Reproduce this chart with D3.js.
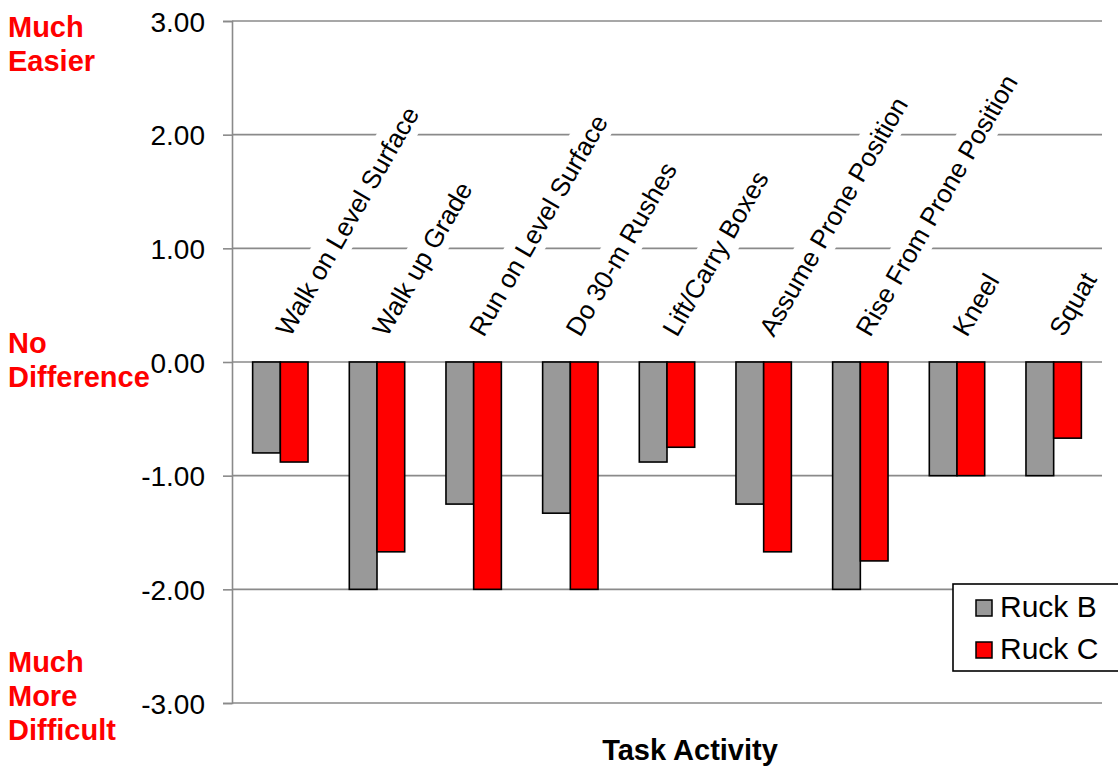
<!DOCTYPE html>
<html>
<head>
<meta charset="utf-8">
<script src="https://cdn.jsdelivr.net/npm/d3@7"></script>
<style>
  html, body { margin: 0; padding: 0; background: #fff; }
  svg { display: block; font-family: Arial, "Liberation Sans", sans-serif; }
</style>
</head>
<body>
<svg id="chart" width="1118" height="771"></svg>
<script>
// Task activities, ruck ratings (negative = more difficult)
const categories = [
  "Walk on Level Surface", "Walk up Grade", "Run on Level Surface",
  "Do 30-m Rushes", "Lift/Carry Boxes", "Assume Prone Position",
  "Rise From Prone Position", "Kneel", "Squat"
];
const seriesNames = ["Ruck B", "Ruck C"];
const ruckB = [-0.80, -2.00, -1.25, -1.33, -0.88, -1.25, -2.00, -1.00, -1.00];
const ruckC = [-0.88, -1.67, -2.00, -2.00, -0.75, -1.67, -1.75, -1.00, -0.67];
const yTicks = [3, 2, 1, 0, -1, -2, -3];
const sideNotes = [
  { value: 3, lines: ["Much", "Easier"] },
  { value: 0, lines: ["No", "Difference"] },
  { value: -3, lines: ["Much", "More", "Difficult"] }
];
const xTitle = "Task Activity";

const seriesColors = { "Ruck B": "#999999", "Ruck C": "#ff0000" };
const gridColor = "#8a8a8a";

const svg = d3.select("#chart");
const plot = { left: 232, right: 1102, top: 21, bottom: 703 };

const y = d3.scaleLinear().domain([-3, 3]).range([plot.bottom, plot.top]);
const x0 = d3.scaleBand().domain(categories)
  .range([plot.left, plot.right]).paddingInner(0.427).paddingOuter(0.2135);
const x1 = d3.scaleBand().domain(seriesNames).range([0, x0.bandwidth()]);

// Horizontal gridlines
svg.append("g").selectAll("line").data(yTicks).join("line")
  .attr("x1", plot.left).attr("x2", plot.right)
  .attr("y1", d => y(d)).attr("y2", d => y(d))
  .attr("stroke", gridColor).attr("stroke-width", 1.6);

// Value axis with tick marks (plain hyphen for negatives)
const fmt = d3.formatLocale({ decimal: ".", thousands: ",", grouping: [3],
  currency: ["", ""], minus: "-" }).format(".2f");
const yAxis = svg.append("g").attr("transform", `translate(${plot.left},0)`)
  .call(d3.axisLeft(y).tickValues(yTicks).tickFormat(fmt)
    .tickSize(9).tickPadding(18));
yAxis.select(".domain").attr("stroke", gridColor).attr("stroke-width", 1.6);
yAxis.selectAll(".tick line").attr("stroke", gridColor).attr("stroke-width", 1.6);
yAxis.selectAll(".tick text")
  .attr("font-size", 28).attr("fill", "#000")
  .attr("font-family", "Arial, 'Liberation Sans', sans-serif")
  .attr("dy", "0.36em");

// Rotated category labels, each on a white box that breaks the gridlines
const labelG = svg.append("g");
const labelSize = 26;
categories.forEach(c => {
  const cx = x0(c) + x0.bandwidth() / 2 + 10;
  const g = labelG.append("g").attr("transform", `translate(${cx},338) rotate(-60)`);
  const rect = g.append("rect").attr("fill", "#fff");
  const t = g.append("text").text(c)
    .attr("font-size", labelSize).attr("fill", "#000").attr("x", 0).attr("y", 0);
  const len = t.node().getComputedTextLength();
  rect.attr("x", -6).attr("width", len + 12)
    .attr("y", -labelSize * 0.36 - 18).attr("height", 36);
});

// Bars
const rows = categories.map((c, i) => ({ cat: c, "Ruck B": ruckB[i], "Ruck C": ruckC[i] }));
svg.append("g").selectAll("g").data(rows).join("g")
  .attr("transform", d => `translate(${x0(d.cat)},0)`)
  .selectAll("rect")
  .data(d => seriesNames.map(s => ({ s, v: d[s] })))
  .join("rect")
  .attr("x", d => x1(d.s))
  .attr("width", x1.bandwidth())
  .attr("y", d => y(Math.max(0, d.v)))
  .attr("height", d => Math.abs(y(d.v) - y(0)))
  .attr("fill", d => seriesColors[d.s])
  .attr("stroke", "#000").attr("stroke-width", 1.6);

// Side annotations
sideNotes.forEach(n => {
  const t = svg.append("text").attr("font-size", 29).attr("font-weight", "bold")
    .attr("fill", "#ff0000");
  const spacing = 34;
  let startY;
  if (n.value === 3) startY = y(3) + 16;
  else if (n.value === 0) startY = y(0) - 9;
  else startY = y(-3) - 31;
  n.lines.forEach((ln, i) => {
    t.append("tspan").attr("x", 8).attr("y", startY + i * spacing).text(ln);
  });
});

// Axis title
svg.append("text").text(xTitle)
  .attr("x", 690).attr("y", 760).attr("text-anchor", "middle")
  .attr("font-size", 29).attr("font-weight", "bold").attr("fill", "#000");

// Legend
const legend = svg.append("g").attr("transform", "translate(953,584)");
legend.append("rect").attr("width", 175).attr("height", 87)
  .attr("fill", "#fff").attr("stroke", "#000").attr("stroke-width", 1.6);
seriesNames.forEach((s, i) => {
  const row = legend.append("g").attr("transform", `translate(23,${16 + i * 42})`);
  row.append("rect").attr("width", 16).attr("height", 16)
    .attr("fill", seriesColors[s]).attr("stroke", "#000").attr("stroke-width", 1.5);
  row.append("text").text(s).attr("x", 24).attr("y", 17)
    .attr("font-size", 30).attr("fill", "#000");
});
</script>
</body>
</html>
